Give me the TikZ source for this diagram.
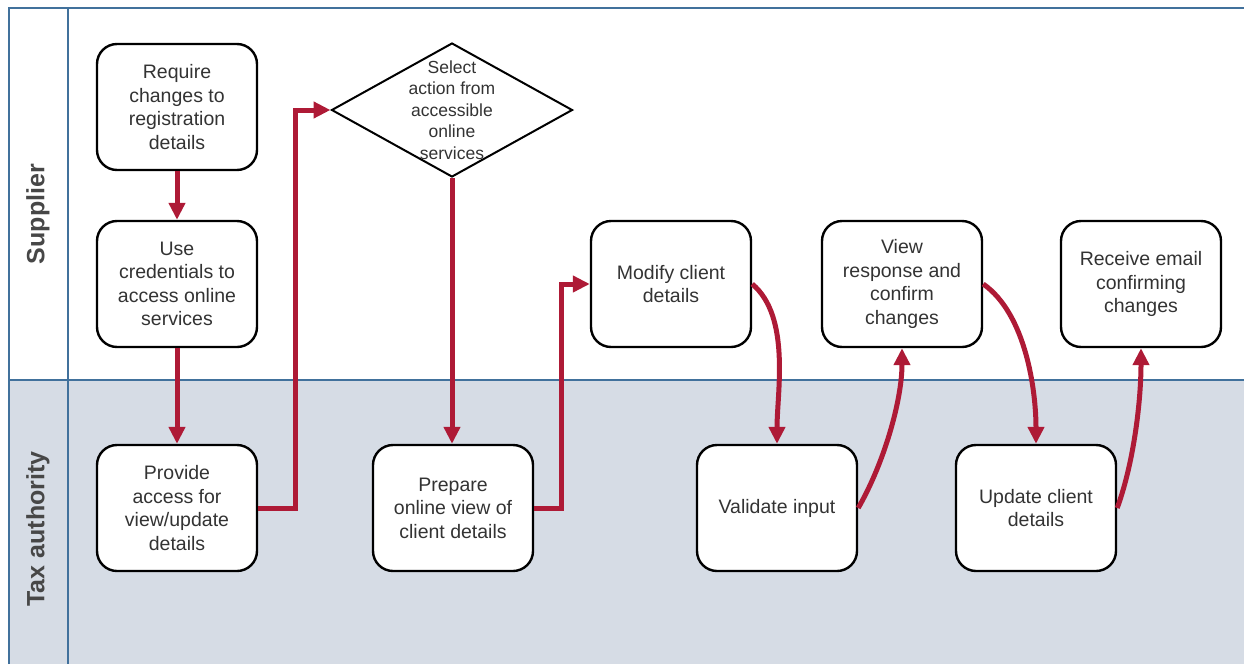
\documentclass[tikz,border=0pt]{standalone}
\usepackage{fontspec}
\setmainfont{Liberation Sans}
\usetikzlibrary{arrows.meta,shapes.geometric}
\definecolor{laneblue}{HTML}{41719C}
\definecolor{lanefill}{HTML}{D6DCE5}
\definecolor{flowred}{HTML}{AE1A36}
\definecolor{txtgray}{HTML}{333333}

\begin{document}
\begin{tikzpicture}[x=1pt,y=-1pt,
  task/.style={draw=black,line width=2.4pt,rounded corners=20pt,fill=white,
    minimum width=160pt,minimum height=126pt,align=center,text=txtgray,
    font=\fontsize{19.5}{23.5}\selectfont},
  flow/.style={draw=flowred,line width=5pt,-{Triangle[length=17pt,width=16pt]}},
  lanelabel/.style={rotate=90,font=\fontsize{25}{30}\selectfont\bfseries,text=black!72}]
\useasboundingbox (0,0) rectangle (1244,664);
\fill[lanefill] (9,380) rectangle (1244,664);
\draw[laneblue,line width=1.3pt] (9,664) -- (9,8) -- (1244,8);
\draw[laneblue,line width=1.3pt] (68,8) -- (68,664);
\draw[laneblue,line width=1.3pt] (9,380) -- (1244,380);
\node[lanelabel] (supplier) at (38,214) {Supplier};
\node[lanelabel] (taxauth) at (38,529) {Tax authority};

\node[task] (b1) at (177,107) {Require\\changes to\\registration\\details};
\node[task] (b2) at (177,284) {Use\\credentials to\\access online\\services};
\node[task] (b3) at (177,508) {Provide\\access for\\view/update\\details};
\node[draw=black,line width=2pt,diamond,minimum width=241pt,minimum height=134pt,
  inner sep=0pt,fill=white] (sel) at (452,110) {};
\node[font=\fontsize{17.5}{21.5}\selectfont,text=txtgray,align=center] (seltext)
  at (sel.center) {Select\\action from\\accessible\\online\\services};
\node[task] (b4) at (453,508) {Prepare\\online view of\\client details};
\node[task] (b5) at (671,284) {Modify client\\details};
\node[task] (b6) at (777,508) {Validate input};
\node[task] (b7) at (902,284) {View\\response and\\confirm\\changes};
\node[task] (b8) at (1036,508) {Update client\\details};
\node[task] (b9) at (1141,284) {Receive email\\confirming\\changes};

\draw[flow] (b1) -- (b2);
\draw[flow] (b2) -- (b3);
\draw[flow] (b3.east) -- ++(37,0) |- (sel.west);
\draw[flow] (sel.south) -- (sel.south |- b4.north);
\draw[flow] (b4.east) -- ++(27,0) |- (b5.west);
\draw[flow] (b5.east) to[out=-40,in=90,looseness=0.8] (b6.north);
\draw[flow] (b6.east) to[out=60,in=-90,looseness=0.8] (b7.south);
\draw[flow] (b7.east) to[out=-35,in=90,looseness=0.8] (b8.north);
\draw[flow] (b8.east) to[out=70,in=-90,looseness=0.8] (b9.south);
\end{tikzpicture}
\end{document}
